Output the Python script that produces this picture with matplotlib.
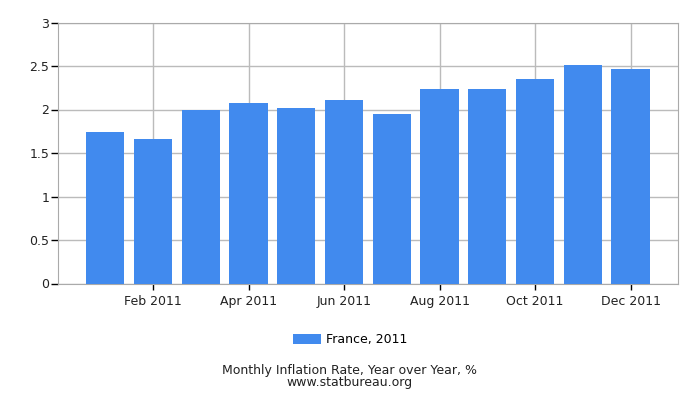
import matplotlib
matplotlib.use("Agg")
import matplotlib.pyplot as plt
from matplotlib.patches import Patch

months = ["Jan 2011", "Feb 2011", "Mar 2011", "Apr 2011", "May 2011", "Jun 2011",
          "Jul 2011", "Aug 2011", "Sep 2011", "Oct 2011", "Nov 2011", "Dec 2011"]
values = [1.74, 1.66, 2.00, 2.07, 2.02, 2.11, 1.95, 2.23, 2.23, 2.35, 2.51, 2.47]
yticks = [0, 0.5, 1, 1.5, 2, 2.5, 3]
ytick_labels = ["0", "0.5", "1", "1.5", "2", "2.5", "3"]
series_name = "France, 2011"
title = "Monthly Inflation Rate, Year over Year, %"
source = "www.statbureau.org"

color = "#418aee"
fig = plt.figure(figsize=(7, 4), dpi=100)
ax = fig.add_axes([57.5/700, 1 - 283.5/400, (678.3-57.5)/700, (283.5-22.5)/400])
x = list(range(len(values)))
ax.bar(x, values, width=0.8, color=color, zorder=3)
ax.set_xlim(-1, 12)
ax.set_ylim(0, 3)
ax.set_yticks(yticks)
ax.set_yticklabels(ytick_labels)
ax.set_xticks(x[1::2])
ax.set_xticklabels(months[1::2])
ax.grid(True, color="#bbbbbb", linewidth=1, zorder=0)
for s in ax.spines.values():
    s.set_color("#aaaaaa")
ax.tick_params(axis="both", colors="black", labelsize=9, length=5, width=1, direction="out")
ax.tick_params(axis="x", length=4, pad=4)
ax.tick_params(axis="y", pad=1)
for lbl in ax.get_xticklabels() + ax.get_yticklabels():
    lbl.set_color("#222222")

handle = Patch(facecolor=color, edgecolor="none")
fig.legend([handle], [series_name], loc="center", bbox_to_anchor=(350/700, 1 - 340/400),
           frameon=False, fontsize=9, handlelength=2.2, handleheight=0.9, handletextpad=0.4)
fig.text(0.5, 1 - 376.5/400, title + "\n" + source, ha="center", va="center",
         fontsize=9, color="#222222", linespacing=0.85, multialignment="center")
fig.savefig("out.png", dpi=100)
